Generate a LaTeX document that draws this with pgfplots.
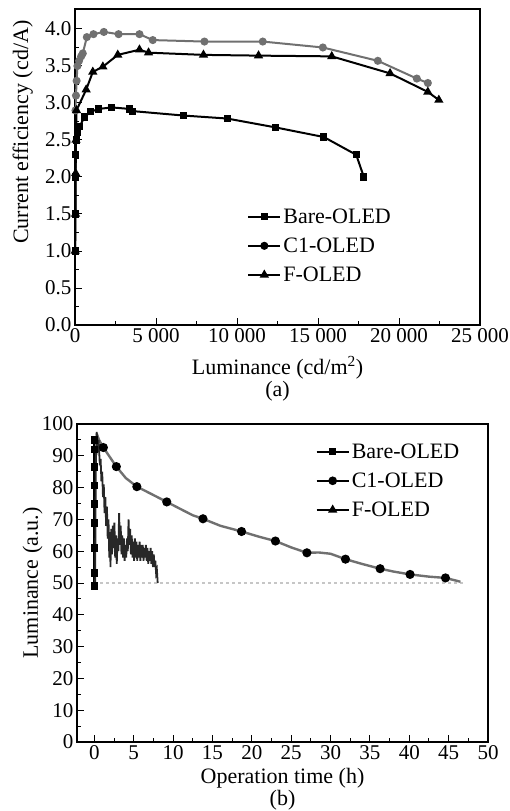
\documentclass[border=0pt]{standalone}
\usepackage{fontspec}
\setmainfont{Liberation Serif}
\usepackage{pgfplots}
\pgfplotsset{compat=1.18}
\definecolor{cgray}{RGB}{112,112,112}
\definecolor{fdark}{RGB}{40,40,40}

\pgfplotsset{
  oledaxis/.style={
    scale only axis, axis line style={line width=1.4pt},
    tick align=inside, tick pos=left,
    major tick length=7pt, minor tick length=4pt,
    every tick/.style={black, line width=1pt},
    minor tick num=1,
    /pgf/number format/assume math mode=true,
    tick label style={font=\fontsize{21}{23}\selectfont},
    label style={font=\fontsize{22}{22}\selectfont},
    legend cell align=left,
    legend image code/.code={\draw[mark repeat=2,mark phase=2] plot coordinates {(0pt,0pt) (16pt,0pt) (32pt,0pt)};},
    legend style={draw=none, fill=none, font=\fontsize{22}{24}\selectfont, row sep=9pt, inner sep=0pt},
  }
}

\begin{document}
\begin{tikzpicture}
\useasboundingbox (0pt,0pt) rectangle (509pt,-811pt);

% (a) current efficiency
\begin{axis}[oledaxis, at={(75pt,-9pt)}, anchor=north west,
  width=405pt, height=316pt,
  xmin=0, xmax=25000, ymin=0, ymax=4.27,
  xtick={0,5000,...,25000}, ytick={0,0.5,...,4.0},
  scaled x ticks=false,
  xticklabel style={/pgf/number format/.cd, 1000 sep={\ }},
  yticklabel style={/pgf/number format/.cd, fixed, fixed zerofill, precision=1},
  xlabel={Luminance (cd/m\textsuperscript{2})\\(a)}, xlabel style={align=center, yshift=-7pt},
  ylabel={Current efficiency (cd/A)}, ylabel style={at={(axis description cs:-0.095,0.61)}, anchor=south},
  legend style={at={(0.425,0.375)}, anchor=north west}]
  \addplot[black, line width=2pt, mark=square*, mark size=2.6pt] coordinates {
    (10,1.0) (15,1.5) (25,2.0) (40,2.3) (70,2.5) (150,2.6) (280,2.68) (590,2.81) (940,2.88)
    (1470,2.92) (2270,2.94) (3360,2.92) (3570,2.89) (6720,2.83) (9390,2.79) (12380,2.67)
    (15360,2.54) (17360,2.30) (17830,2.0)};
  \addlegendentry{Bare-OLED}
  \addplot[cgray, line width=2pt, mark=*, mark size=3pt, legend image post style={black}] coordinates {
    (30,2.9) (60,3.1) (100,3.3) (150,3.5) (250,3.57) (380,3.63) (480,3.67) (730,3.89)
    (1140,3.93) (1780,3.96) (2690,3.93) (3980,3.93) (4800,3.85) (7990,3.83) (11590,3.83)
    (15300,3.75) (18690,3.57) (21100,3.33) (21780,3.27)};
  \addlegendentry{C1-OLED}
  \addplot[black, line width=2pt, mark=triangle*, mark size=3.4pt] coordinates {
    (10,1.0) (30,1.5) (40,2.05) (60,2.5) (90,2.9) (690,3.18) (1100,3.42) (1720,3.49)
    (2640,3.65) (3980,3.72) (4540,3.68) (7930,3.65) (11330,3.64) (15850,3.63)
    (19450,3.40) (21780,3.15) (22460,3.04)};
  \addlegendentry{F-OLED}
\end{axis}

% (b) lifetime
\begin{axis}[oledaxis, at={(77pt,-424pt)}, anchor=north west,
  width=411pt, height=318pt,
  xmin=-2.2, xmax=50, ymin=0, ymax=100,
  xtick={0,5,...,50}, ytick={0,10,...,100},
  xlabel={Operation time (h)\\(b)}, xlabel style={align=center, yshift=-2pt},
  ylabel={Luminance (a.u.)}, ylabel style={at={(axis description cs:-0.075,0.5)}, anchor=south},
  legend style={at={(0.58,0.945)}, anchor=north west}]
  \addplot[gray!45, dashed, line width=1.4pt, forget plot] coordinates {(0,50) (47,50)};
  \addplot[black, line width=2.2pt, mark=square*, mark size=2.6pt] coordinates {
    (0,49) (0,53.2) (0,61.0) (0,68.9) (0,74.9) (0,80.6) (0,86.5) (0,91.9) (0,95)};
  \addlegendentry{Bare-OLED}
  \addplot[cgray, line width=2.4pt, mark=*, mark size=3.3pt,
    mark options={fill=black, draw=black},
    mark indices={3,5,7,9,12,14,16,18,21,23,25,27},
    legend image post style={black, line width=2pt, mark indices={2}}] coordinates {
    (0.3,97) (0.6,95) (1.15,92.6) (2,89.5) (2.8,86.6) (4,83) (5.4,80.3) (7,78.3)
    (9.2,75.5) (11,73.2) (12.5,71.3) (13.8,70.2) (16,68) (18.7,66.2) (21,64.5)
    (23,63.2) (25,61.2) (27,59.5) (28.5,59.6) (30,59.2) (31.9,57.5) (34,56)
    (36.3,54.5) (38,53.6) (40.1,52.7) (42.5,52) (44.6,51.6) (46.5,50.4)};
  \addlegendentry{C1-OLED}
  \addplot[fdark, line width=1.8pt, legend image post style={black, line width=2pt, mark=triangle*, mark size=3.4pt}] coordinates {
    (0.1,49) (0.2,90) (0.3,97.5) (0.45,93) (0.55,95) (0.7,87) (0.8,89) (0.9,82) (1.0,85)
    (1.1,77) (1.2,81) (1.3,72) (1.4,77) (1.5,68) (1.6,74) (1.7,64) (1.8,70) (1.9,58)
    (2.0,66) (2.05,55) (2.15,67) (2.25,59) (2.35,68) (2.45,61) (2.55,69) (2.65,58)
    (2.75,65) (2.85,56) (2.95,64) (3.05,60) (3.15,72) (3.25,62) (3.35,68) (3.45,59)
    (3.55,65) (3.65,58) (3.75,64) (3.85,57) (3.95,62) (4.05,58) (4.15,64) (4.25,60)
    (4.35,70) (4.45,62) (4.55,67) (4.65,59) (4.75,65) (4.85,58) (4.95,63) (5.05,57)
    (5.15,64) (5.25,58) (5.35,63) (5.45,57) (5.55,62) (5.65,58) (5.75,63) (5.85,57)
    (5.95,62) (6.05,58) (6.15,62) (6.25,57) (6.35,61) (6.45,58) (6.55,62) (6.65,57)
    (6.75,61) (6.85,56) (6.95,60) (7.05,57) (7.15,61) (7.25,56) (7.35,60) (7.45,55)
    (7.55,59) (7.65,55) (7.75,57) (7.85,53) (7.95,54) (8.05,50)};
  \addlegendentry{F-OLED}
\end{axis}
\end{tikzpicture}
\end{document}
